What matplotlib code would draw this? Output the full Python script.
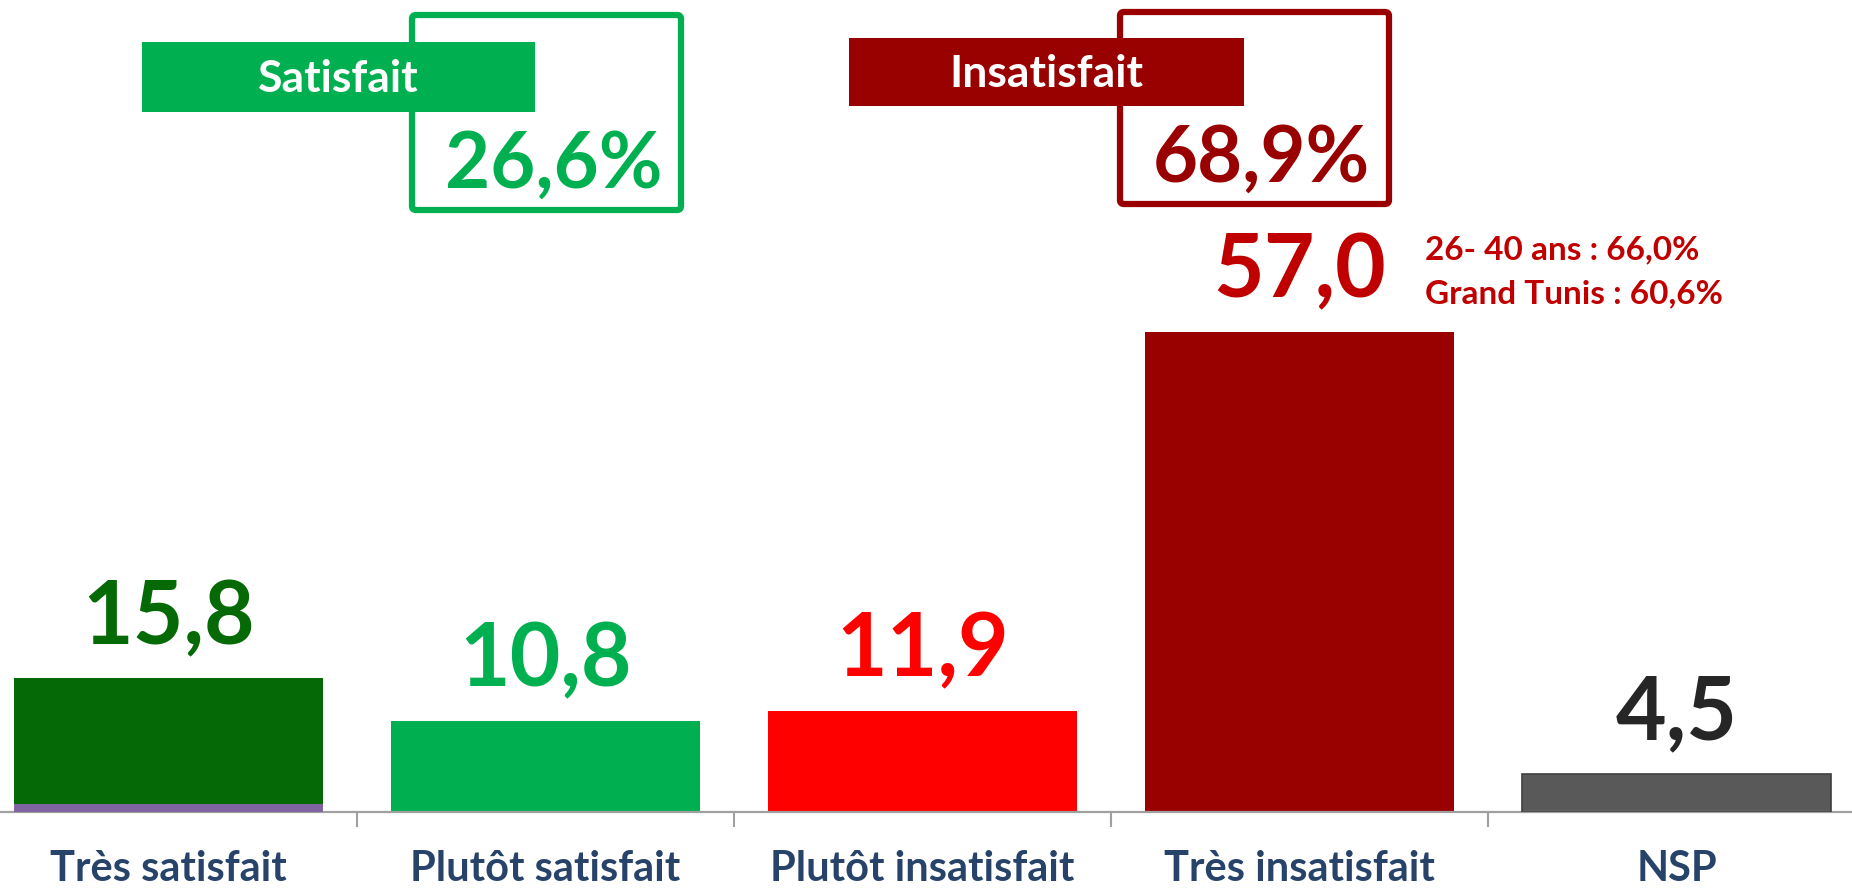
import numpy as np
import matplotlib
matplotlib.use('Agg')
import matplotlib.pyplot as plt
from matplotlib.patches import Rectangle, FancyBboxPatch

plt.rcParams['font.family'] = ['Lato', 'DejaVu Sans']
plt.rcParams['font.weight'] = 'bold'

# data
categories = ['Très satisfait', 'Plutôt satisfait', 'Plutôt insatisfait', 'Très insatisfait', 'NSP']
values = [15.8, 10.8, 11.9, 57.0, 4.5]
base_strip = [0.9, 0, 0, 0, 0]
bar_colors = ['#056905', '#00B050', '#FF0000', '#990000', '#595959']
label_colors = ['#056905', '#00B050', '#FF0000', '#C00000', '#262626']
group_names = ['Satisfait', 'Insatisfait']
group_colors = ['#00B050', '#990000']
group_totals = [values[0] + values[1], values[2] + values[3]]
notes = ['26- 40 ans : 66,0%', 'Grand Tunis : 60,6%']

W, H = 1852, 891
fig = plt.figure(figsize=(W / 100, H / 100), dpi=100)

# main bar axes (slightly wider than the figure, like the original slide)
ax = fig.add_axes([-20 / W, 79.5 / H, 1885 / W, 673.6 / H])
x = np.arange(len(categories))
ax.bar(x, values, width=0.82, color=bar_colors, zorder=2)
ax.bar(x, base_strip, width=0.82, color='#8064A2', zorder=3)
# thin darker outline on NSP bar
ax.bar(x[-1], values[-1], width=0.82, fill=False, edgecolor='#3F3F3F', lw=1.2, zorder=4)

ax.set_xlim(-0.5, len(categories) - 0.5)
ax.set_ylim(0, 80)
for s in ['top', 'left', 'right']:
    ax.spines[s].set_visible(False)
ax.spines['bottom'].set_color('#A0A0A0')
ax.spines['bottom'].set_linewidth(1.6)
ax.set_yticks([])
ax.set_xticks(x)
ax.set_xticklabels(categories, fontsize=30, fontweight='bold', color='#28436A', va='top')
ax.tick_params(axis='x', which='major', length=0, pad=28)
ax.set_xticks(x[:-1] + 0.5, minor=True)
ax.tick_params(axis='x', which='minor', length=11, width=1.5, color='#A0A0A0')

for i, v in enumerate(values):
    ax.text(i, v + 4.1, f"{v:.1f}".replace('.', ','), ha='center', va='baseline',
            fontsize=63, fontweight='bold', color=label_colors[i])

# overlay in pixel coordinates for the summary boxes
ov = fig.add_axes([0, 0, 1, 1])
ov.set_xlim(0, W)
ov.set_ylim(H, 0)
ov.axis('off')

boxes = [
    # filled rect (x0, y0, x1, y1), outline box, total text right x, baseline
    ((142, 42, 535, 112), (412, 15, 681, 210), 663, 188),
    ((849, 38, 1244, 106), (1120, 12, 1389, 204), 1370, 182),
]
for k, (rect, box, tx, ty) in enumerate(boxes):
    c = group_colors[k]
    ov.add_patch(FancyBboxPatch((box[0], box[1]), box[2] - box[0], box[3] - box[1],
                                boxstyle='round,pad=0,rounding_size=4',
                                fill=False, edgecolor=c, lw=4.5, zorder=1))
    ov.add_patch(Rectangle((rect[0], rect[1]), rect[2] - rect[0], rect[3] - rect[1],
                           facecolor=c, edgecolor='none', zorder=2))
    ov.text((rect[0] + rect[2]) / 2, (rect[1] + rect[3]) / 2 + 2, group_names[k],
            ha='center', va='center', fontsize=32, fontweight='bold', color='white', zorder=3)
    ov.text(tx, ty, f"{group_totals[k]:.1f}%".replace('.', ','), ha='right', va='baseline',
            fontsize=56, fontweight='bold', color=c, zorder=3)

for j, line in enumerate(notes):
    ov.text(1425, 259 + 44 * j, line, ha='left', va='baseline',
            fontsize=24, fontweight='bold', color='#C00000')

fig.savefig('out.png', dpi=100)
